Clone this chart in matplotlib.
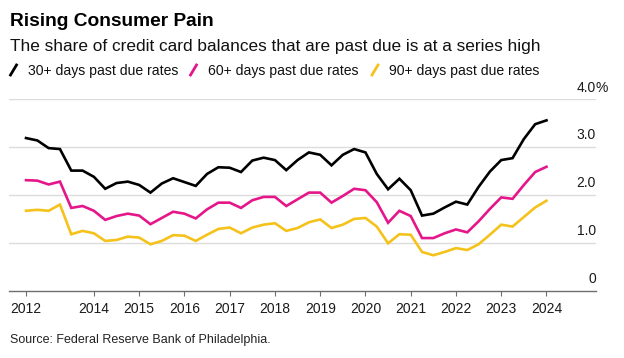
import numpy as np
import pandas as pd
import matplotlib
matplotlib.use('Agg')
import matplotlib.pyplot as plt
from matplotlib.lines import Line2D

plt.rcParams['font.family'] = ['Liberation Sans', 'DejaVu Sans']

# quarterly data, 2012 Q3 .. 2024 Q1
quarters = pd.period_range('2012Q3', '2024Q1', freq='Q')

rate_30 = [3.19, 3.14, 2.98, 2.96, 2.51, 2.51, 2.38, 2.13, 2.25, 2.28, 2.21, 2.05,
           2.24, 2.35, 2.27, 2.19, 2.44, 2.58, 2.57, 2.48, 2.72, 2.78, 2.73, 2.52,
           2.73, 2.89, 2.84, 2.62, 2.84, 2.96, 2.89, 2.44, 2.12, 2.34, 2.10, 1.57,
           1.61, 1.74, 1.86, 1.80, 2.17, 2.49, 2.73, 2.77, 3.17, 3.48, 3.56]
rate_60 = [2.31, 2.30, 2.22, 2.28, 1.73, 1.77, 1.67, 1.48, 1.56, 1.61, 1.57, 1.39,
           1.52, 1.65, 1.61, 1.51, 1.70, 1.84, 1.84, 1.73, 1.89, 1.96, 1.96, 1.77,
           1.91, 2.05, 2.05, 1.84, 1.98, 2.13, 2.10, 1.85, 1.42, 1.67, 1.56, 1.10,
           1.10, 1.20, 1.28, 1.22, 1.45, 1.71, 1.95, 1.92, 2.21, 2.48, 2.59]
rate_90 = [1.67, 1.69, 1.67, 1.80, 1.18, 1.25, 1.20, 1.04, 1.06, 1.13, 1.11, 0.97,
           1.04, 1.16, 1.15, 1.04, 1.17, 1.29, 1.32, 1.20, 1.32, 1.38, 1.41, 1.25,
           1.31, 1.43, 1.49, 1.31, 1.38, 1.50, 1.52, 1.34, 0.99, 1.18, 1.17, 0.81,
           0.74, 0.81, 0.89, 0.85, 0.97, 1.17, 1.38, 1.34, 1.54, 1.74, 1.88]

series_names = ['30+ days past due rates', '60+ days past due rates', '90+ days past due rates']
colors = ['#000000', '#e5168a', '#f5c21b']

tick_pos = [2012.5, 2014, 2015, 2016, 2017, 2018, 2019, 2020, 2021, 2022, 2023, 2024]
tick_labels = ['2012', '2014', '2015', '2016', '2017', '2018', '2019', '2020', '2021',
               '2022', '2023', '2024']
y_ticks = [0, 1, 2, 3, 4]
y_labels = ['0', '1.0', '2.0', '3.0', '4.0']

W, H = 624, 358
x = quarters.year + (quarters.quarter - 1) / 4


def px(xp, yp):
    return xp / W, 1 - yp / H


fig = plt.figure(figsize=(W / 100, H / 100), dpi=100)
ax = fig.add_axes([8.5 / W, (H - 290.7) / H, (596 - 8.5) / W, (290.7 - 99.3) / H])

for vals, c in zip([rate_30, rate_60, rate_90], colors):
    ax.plot(x, vals, color=c, lw=1.9, solid_joinstyle='miter', clip_on=False, zorder=3)

ax.set_xlim(2012.113, 2025.094)
ax.set_ylim(0, 4)

for s in ['top', 'right', 'left']:
    ax.spines[s].set_visible(False)
ax.spines['bottom'].set_color('#6e6e6e')
ax.spines['bottom'].set_linewidth(1)

ax.set_yticks(y_ticks[1:])
ax.yaxis.grid(True, color='#dcdcdc', lw=1)
ax.tick_params(axis='y', length=0, labelleft=False)
ax.set_axisbelow(True)

ax.set_xticks(tick_pos)
ax.set_xticklabels(tick_labels)
ax.tick_params(axis='x', length=3.8, width=0.8, color='#6e6e6e', pad=4,
               labelsize=10, labelcolor='#1a1a1a')

for v, lab in zip(y_ticks, y_labels):
    ax.annotate(lab, xy=(1, v), xycoords=('axes fraction', 'data'), xytext=(0, 5.6),
                textcoords='offset points', ha='right', va='baseline', fontsize=10,
                color='#1a1a1a', annotation_clip=False)
ax.annotate('%', xy=(1, 4), xycoords=('axes fraction', 'data'), xytext=(-0.3, 5.6),
            textcoords='offset points', ha='left', va='baseline', fontsize=10,
            color='#1a1a1a', annotation_clip=False)

fig.text(*px(10, 26), 'Rising Consumer Pain', fontsize=13.8, fontweight='bold',
         va='baseline', color='#000000')
fig.text(*px(10, 50.7), 'The share of credit card balances that are past due is at a series high',
         fontsize=12.4, va='baseline', color='#111111')

# legend
leg_x = [10.5, 190.5, 372]
for lx, name, c in zip(leg_x, series_names, colors):
    xs0, ys0 = px(lx, 75)
    xs1, ys1 = px(lx + 6, 65)
    fig.add_artist(Line2D([xs0, xs1], [ys0, ys1], color=c, lw=2, transform=fig.transFigure))
    fig.text(*px(lx + 17, 75), name, fontsize=10.1, va='baseline', color='#111111')

fig.text(*px(10, 343), 'Source: Federal Reserve Bank of Philadelphia.', fontsize=9,
         va='baseline', color='#222222')

fig.savefig('out.png', dpi=100)
